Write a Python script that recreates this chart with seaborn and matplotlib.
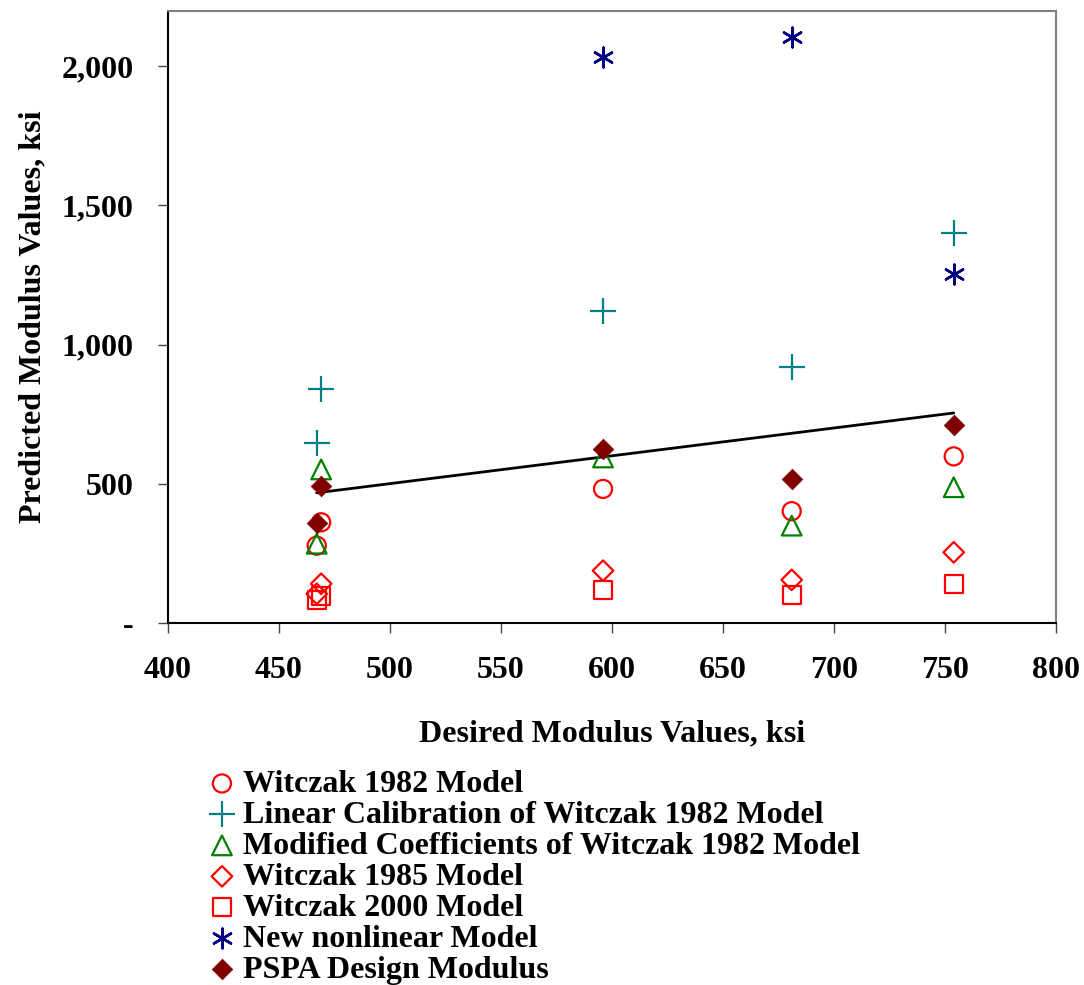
import numpy as np
import matplotlib
matplotlib.use("Agg")
import matplotlib.pyplot as plt
import seaborn as sns
from matplotlib.ticker import FuncFormatter, FixedLocator

sns.set_theme(style="white")
plt.rcParams["font.family"] = ["Liberation Serif", "DejaVu Serif"]
plt.rcParams["font.weight"] = "bold"
plt.rcParams["text.color"] = "black"
plt.rcParams["axes.labelcolor"] = "black"
plt.rcParams["xtick.color"] = "black"
plt.rcParams["ytick.color"] = "black"

# Desired (measured) modulus for each section, ksi
desired = [467, 469, 596, 681, 754]

# Predicted modulus by each model, ksi
witczak_1982 = [277, 361, 481, 401, 598]
linear_cal_1982 = [645, 841, 1121, 919, 1401]
modified_coef_1982 = [284, 551, 594, 349, 487]
witczak_1985 = [104, 140, 187, 154, 253]
witczak_2000 = [83, 97, 118, 101, 139]
new_nonlinear = [np.nan, np.nan, 2035, 2107, 1255]
pspa_design = [357, 493, 625, 517, 709]

series_labels = [
    "Witczak 1982 Model",
    "Linear Calibration of Witczak 1982 Model",
    "Modified Coefficients of Witczak 1982 Model",
    "Witczak 1985 Model",
    "Witczak 2000 Model",
    "New nonlinear Model",
    "PSPA Design Modulus",
]

y_ticks = [0, 500, 1000, 1500, 2000]
x_ticks = [400, 450, 500, 550, 600, 650, 700, 750, 800]

fig = plt.figure(figsize=(10.84, 9.85), dpi=100)
ax = fig.add_axes([0.155, 0.3678, 0.819, 0.6213])

# Line of equality across the range of desired values
eq = [min(desired), max(desired)]
sns.lineplot(x=eq, y=eq, ax=ax, color="black", linewidth=2.0, legend=False)

red = "#ff0000"
teal = "#008080"
green = "#008000"
navy = "#000080"
maroon = "#800000"

styles = [
    (witczak_1982, dict(marker="o", s=170, facecolor="none", edgecolor=red, linewidth=1.6)),
    (linear_cal_1982, dict(marker="+", s=330, color=teal, linewidth=1.6)),
    (modified_coef_1982, dict(marker="^", s=200, facecolor="none", edgecolor=green, linewidth=1.6)),
    (witczak_1985, dict(marker="D", s=110, facecolor="none", edgecolor=red, linewidth=1.6)),
    (witczak_2000, dict(marker="s", s=170, facecolor="none", edgecolor=red, linewidth=1.6)),
    (new_nonlinear, dict(marker=(6, 2, 0), s=200, color=navy, linewidth=1.8)),
    (pspa_design, dict(marker="D", s=110, color=maroon, edgecolor=maroon, linewidth=0.5)),
]

handles = []
for vals, kw in styles:
    sns.scatterplot(x=desired, y=vals, ax=ax, legend=False, zorder=3, **kw)
    handles.append(ax.collections[-1])

ax.set_xlim(400, 800)
ax.set_ylim(0, 2200)
ax.xaxis.set_major_locator(FixedLocator(x_ticks))
ax.yaxis.set_major_locator(FixedLocator(y_ticks))
ax.yaxis.set_major_formatter(FuncFormatter(lambda v, p: "-" if v == 0 else f"{int(v):,}"))

for side in ["left", "bottom"]:
    ax.spines[side].set_color("black")
    ax.spines[side].set_linewidth(1.5)
for side in ["top", "right"]:
    ax.spines[side].set_color("#808080")
    ax.spines[side].set_linewidth(1.5)

ax.tick_params(axis="both", which="major", direction="out", length=7, width=1.0,
               color="#444444", labelcolor="black", labelsize=23, bottom=True, left=True)
ax.tick_params(axis="y", pad=18)
ax.tick_params(axis="x", pad=17)
for lab in ax.get_xticklabels() + ax.get_yticklabels():
    lab.set_fontweight("bold")

ax.set_xlabel("Desired Modulus Values, ksi", fontsize=23, fontweight="bold", labelpad=25)
ax.set_ylabel("Predicted Modulus Values, ksi", fontsize=23, fontweight="bold", labelpad=10)

leg = fig.legend(handles, series_labels, loc="upper left",
                 bbox_to_anchor=(0.19, 0.2188), frameon=False,
                 prop={"size": 23, "weight": "bold"},
                 handlelength=1.0, handletextpad=0.15, labelspacing=0.05,
                 borderpad=0, borderaxespad=0, scatterpoints=1)

fig.savefig("out.png", dpi=100)
